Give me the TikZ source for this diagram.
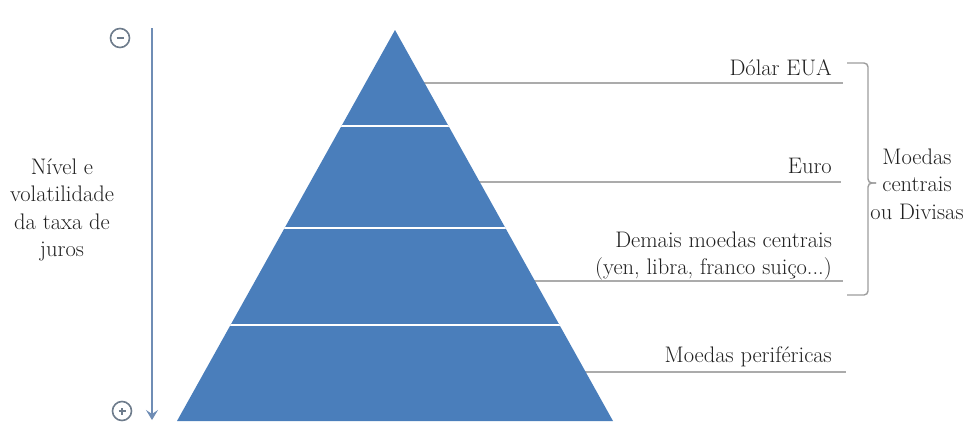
\documentclass[tikz,border=0pt]{standalone}
\usepackage{fontspec}
\usetikzlibrary{arrows.meta}
\definecolor{pyr}{HTML}{4A7EBB}
\definecolor{axisc}{HTML}{6F8DB5}
\definecolor{circc}{HTML}{6E7C8C}
\definecolor{leader}{HTML}{ABABAB}
\definecolor{bracec}{HTML}{9C9C9C}
\definecolor{txt}{HTML}{202020}
\tikzset{
  lbl/.style={inner sep=0pt, text=txt, font=\fontsize{22.5}{27.3}\selectfont},
  leaderline/.style={draw=leader, line width=1.4pt},
  sep/.style={draw=white, line width=2.6pt},
  signc/.style={circle, draw=circc, line width=1.6pt, minimum size=19pt, inner sep=0pt},
  signbar/.style={draw=circc, line width=1.7pt},
  bracestyle/.style={draw=bracec, line width=1.4pt, rounded corners=4pt},
}
\begin{document}
\begin{tikzpicture}[x=1pt,y=-1pt]
\useasboundingbox (0,0) rectangle (979,423);
% leader lines (start hidden behind the pyramid)
\coordinate (d0) at (400,83);  \coordinate (d1) at (843,83);
\coordinate (e0) at (400,182); \coordinate (e1) at (841,182);
\coordinate (m0) at (400,281); \coordinate (m1) at (843,281);
\coordinate (p0) at (400,372); \coordinate (p1) at (846,372);
\draw[leaderline] (d0) -- (d1);
\draw[leaderline] (e0) -- (e1);
\draw[leaderline] (m0) -- (m1);
\draw[leaderline] (p0) -- (p1);
% pyramid
\coordinate (apex) at (395,30);
\coordinate (bl) at (177,421);
\coordinate (br) at (613,421);
\fill[pyr] (apex) -- (br) -- (bl) -- cycle;
\begin{scope}
  \clip (apex) -- (br) -- (bl) -- cycle;
  \coordinate (s1a) at (150,126); \coordinate (s1b) at (650,126);
  \coordinate (s2a) at (150,228); \coordinate (s2b) at (650,228);
  \coordinate (s3a) at (150,325); \coordinate (s3b) at (650,325);
  \draw[sep] (s1a) -- (s1b);
  \draw[sep] (s2a) -- (s2b);
  \draw[sep] (s3a) -- (s3b);
\end{scope}
% axis arrow
\coordinate (atop) at (152,28);
\coordinate (abot) at (152,420);
\draw[axisc, line width=2.2pt, -{Stealth[length=10pt,width=12pt,inset=4pt]}] (atop) -- (abot);
% sign circles
\node[signc] (minus) at (120,38) {};
\draw[signbar] ([xshift=-3.5pt]minus.center) -- ([xshift=3.5pt]minus.center);
\node[signc] (plus) at (122,411) {};
\draw[signbar] ([xshift=-3.5pt]plus.center) -- ([xshift=3.5pt]plus.center);
\draw[signbar] ([yshift=-3.5pt]plus.center) -- ([yshift=3.5pt]plus.center);
% left label
\node[lbl, align=center] (nivel) at (62,210) {Nível e\\volatilidade\\da taxa de\\juros};
% right labels
\node[lbl, anchor=base east] (dolar) at (832,75) {Dólar EUA};
\node[lbl, anchor=base east] (euro) at (832,173) {Euro};
\node[lbl, anchor=east, align=right] (demais) at (832,256) {Demais moedas centrais\\(yen, libra, franco suiço...)};
\node[lbl, anchor=base east] (perif) at (832,362) {Moedas periféricas};
% brace
\coordinate (bt) at (847,63);
\coordinate (bm) at (876,183);
\coordinate (bb) at (847,295);
\draw[bracestyle] (bt) -| (868,183) -- (bm);
\draw[bracestyle] (bm) -- (868,183) |- (bb);
\node[lbl, align=center] (centrais) at (917,184) {Moedas\\centrais\\ou Divisas};
\end{tikzpicture}
\end{document}
